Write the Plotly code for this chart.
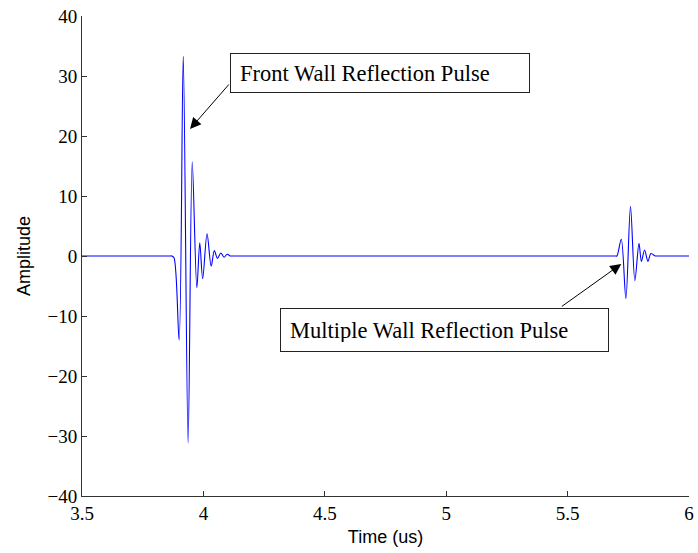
import plotly.graph_objects as go

# Time (us) and amplitude at the visible extrema of the waveform (flat baseline samples included)
time_us = [3.5, 3.86, 3.870, 3.879, 3.900, 3.917, 3.937, 3.954, 3.973, 3.985, 3.997, 4.015, 4.032,
           4.045, 4.058, 4.072, 4.085, 4.098, 4.110, 4.114, 4.118,
           5.690, 5.697, 5.703, 5.721, 5.740, 5.759, 5.777, 5.794, 5.804, 5.817, 5.831, 5.843,
           5.861, 5.866, 5.872, 6.0]
amplitude = [0.0, 0.0, 0.0, -0.3, -14.0, 33.3, -31.2, 15.7, -5.3, 2.2, -3.8, 3.7, -1.7,
             0.9, -0.4, 0.5, -0.2, 0.3, 0.0, 0.0, 0.0,
             0.0, 0.0, 0.0, 2.8, -7.1, 8.3, -4.1, 2.1, -0.9, 1.0, -0.9, 0.4,
             0.0, 0.0, 0.0, 0.0]

x_ticks = [3.5, 4, 4.5, 5, 5.5, 6]
x_tick_text = ["3.5", "4", "4.5", "5", "5.5", "6"]
y_ticks = [-40, -30, -20, -10, 0, 10, 20, 30, 40]

labels = ["Front Wall Reflection Pulse", "Multiple Wall Reflection Pulse"]
label_x = [4.729, 4.991]
label_y = [30.45, -12.33]
arrow_tail_x = [4.110, 5.470]
arrow_tail_y = [28.83, -8.58]
arrow_tip_x = [3.945, 5.721]
arrow_tip_y = [21.17, -1.33]

fig = go.Figure()
fig.add_trace(go.Scatter(
    x=time_us, y=amplitude, mode="lines",
    line=dict(color="#0000ff", width=1.1, shape="spline", smoothing=0.9),
    showlegend=False, hoverinfo="skip"))

serif = "Liberation Serif, Times New Roman, serif"
sans = "Liberation Sans, Arial, sans-serif"

annotations = []
box_w = [300, 329]
box_h = [40, 44]
pad = 9
for i, t in enumerate(labels):
    annotations.append(dict(
        x=label_x[i], y=label_y[i], xref="x", yref="y", text=t, showarrow=False,
        font=dict(family=serif, size=22.5, color="black"),
        bordercolor="#222", borderwidth=1, bgcolor="white", borderpad=pad,
        width=box_w[i] - 2 - 2 * pad, height=box_h[i] - 2 - 2 * pad,
        align="left", xanchor="center", yanchor="middle"))
    annotations.append(dict(
        x=arrow_tip_x[i], y=arrow_tip_y[i], xref="x", yref="y",
        ax=arrow_tail_x[i], ay=arrow_tail_y[i], axref="x", ayref="y",
        text="", showarrow=True, arrowhead=2, arrowsize=2.2, arrowwidth=1,
        arrowcolor="black", standoff=0, startstandoff=0))

fig.update_layout(
    width=698, height=553,
    margin=dict(l=82, r=9, t=16, b=57, autoexpand=False),
    paper_bgcolor="white", plot_bgcolor="white",
    annotations=annotations,
    xaxis=dict(range=[3.5, 6], tickvals=x_ticks, ticktext=x_tick_text, automargin=False,
               showgrid=False, zeroline=False, showline=True, linecolor="#333", linewidth=1,
               ticks="inside", ticklen=5, tickcolor="#333",
               tickfont=dict(family=serif, size=19, color="black"),
               title=dict(text="Time (us)", font=dict(family=sans, size=18, color="black"), standoff=7)),
    yaxis=dict(range=[-40, 40], tickvals=y_ticks, automargin=False,
               showgrid=False, zeroline=False, showline=True, linecolor="#333", linewidth=1,
               ticks="inside", ticklen=5, tickcolor="#333",
               tickfont=dict(family=serif, size=19, color="black"),
               title=dict(text="Amplitude", font=dict(family=sans, size=18, color="black"), standoff=12)),
)

fig.write_html("out.html")
